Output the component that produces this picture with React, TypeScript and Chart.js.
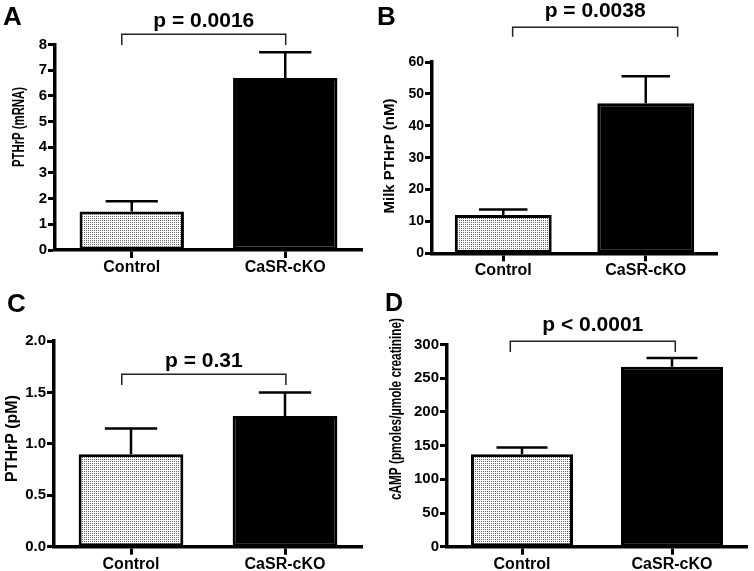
import React, { useEffect, useRef } from "react";
import { Chart, registerables } from "chart.js";

Chart.register(...registerables);

// ---------- data ----------
const categories = ["Control", "CaSR-cKO"];
const panelLetters = ["A", "B", "C", "D"];
const yTitles = ["PTHrP (mRNA)", "Milk PTHrP (nM)", "PTHrP (pM)", "cAMP (pmoles/\u03bcmole creatinine)"];

const meansA = [1.5, 6.7];
const semA = [0.4, 1.0];
const meansB = [12.0, 47.1];
const semB = [1.7, 8.4];
const meansC = [0.9, 1.27];
const semC = [0.25, 0.23];
const meansD = [137, 267];
const semD = [10, 13];

const yMaxes = [8, 60, 2, 300];
const ySteps = [1, 10, 0.5, 50];
const yDecimals = [0, 0, 1, 0];
const pLabels = ["p = 0.0016", "p = 0.0038", "p = 0.31", "p < 0.0001"];
// bracket: horizontal level, leg bottom, text baseline (data units)
const bracketLevels = [8.4, 70.9, 1.676, 305];
const bracketLegEnds = [7.98, 67.9, 1.572, 289];
const pTextBaselines = [8.69, 74.2, 1.75, 319.6];

const allMeans = [meansA, meansB, meansC, meansD];
const allSems = [semA, semB, semC, semD];

// ---------- layout / style ----------
const FONT = "'Liberation Sans', Arial, sans-serif";
type Lay = {
  box: [number, number, number, number];
  area: { left: number; right: number; top: number; bottom: number };
  tickSize: number;
  letter: { x: number; y: number; size: number };
  title: { x: number; y: number; size: number; len: number };
  bracketX: [number, number];
};
const LAYOUT: Lay[] = [
  {
    box: [0, 0, 377, 285],
    area: { left: 55, right: 362, top: 44.5, bottom: 250 },
    tickSize: 15,
    letter: { x: 3, y: 25, size: 26 },
    title: { x: 19, y: 127, size: 17, len: 80 },
    bracketX: [-0.065, 1.003],
  },
  {
    box: [377, 0, 377, 285],
    area: { left: 55, right: 340, top: 62, bottom: 253.3 },
    tickSize: 14,
    letter: { x: 0, y: 25, size: 26 },
    title: { x: 13, y: 156, size: 15, len: 115 },
    bracketX: [0.066, 1.224],
  },
  {
    box: [0, 285, 377, 286],
    area: { left: 54, right: 362, top: 56, bottom: 261.7 },
    tickSize: 15,
    letter: { x: 7, y: 27, size: 26 },
    title: { x: 13, y: 153.5, size: 16, len: 87 },
    bracketX: [-0.06, 1.006],
  },
  {
    box: [377, 285, 377, 286],
    area: { left: 70, right: 370, top: 59.5, bottom: 261.7 },
    tickSize: 15,
    letter: { x: 8, y: 26, size: 25 },
    title: { x: 20, y: 124, size: 16, len: 182 },
    bracketX: [-0.078, 1.022],
  },
];

function makePattern(): CanvasPattern | string {
  const c = document.createElement("canvas");
  c.width = 2;
  c.height = 2;
  const g = c.getContext("2d");
  if (!g) return "#d9d9d9";
  g.fillStyle = "#ffffff";
  g.fillRect(0, 0, 2, 2);
  g.fillStyle = "#666666";
  g.fillRect(0, 0, 1, 1);
  return g.createPattern(c, "repeat") || "#d9d9d9";
}

function Panel({ idx }: { idx: number }) {
  const ref = useRef<HTMLCanvasElement>(null);
  const lay = LAYOUT[idx];

  useEffect(() => {
    const canvas = ref.current;
    if (!canvas) return;
    const means = allMeans[idx];
    const sems = allSems[idx];
    const [, , w, h] = lay.box;
    const pattern = makePattern();

    const overlay = {
      id: "overlay" + idx,
      afterDatasetsDraw(chart: any) {
        const ctx = chart.ctx as CanvasRenderingContext2D;
        const ys = chart.scales.y;
        const xs = chart.scales.x;
        const meta = chart.getDatasetMeta(0);
        ctx.save();
        // error bars (upper only)
        ctx.strokeStyle = "#000";
        ctx.lineWidth = 2.5;
        meta.data.forEach((el: any, i: number) => {
          const top = ys.getPixelForValue(means[i]);
          const eb = ys.getPixelForValue(means[i] + sems[i]);
          const half = el.width * 0.25;
          ctx.beginPath();
          ctx.moveTo(el.x, top);
          ctx.lineTo(el.x, eb);
          ctx.moveTo(el.x - half, eb);
          ctx.lineTo(el.x + half, eb);
          ctx.stroke();
        });
        // significance bracket
        const x0 = xs.getPixelForValue(lay.bracketX[0]);
        const x1 = xs.getPixelForValue(lay.bracketX[1]);
        const yl = ys.getPixelForValue(bracketLevels[idx]);
        const yb = ys.getPixelForValue(bracketLegEnds[idx]);
        ctx.strokeStyle = "#222";
        ctx.lineWidth = 1.5;
        ctx.beginPath();
        ctx.moveTo(x0, yb);
        ctx.lineTo(x0, yl);
        ctx.lineTo(x1, yl);
        ctx.lineTo(x1, yb);
        ctx.stroke();
        ctx.fillStyle = "#000";
        ctx.font = `bold 21px ${FONT}`;
        ctx.textAlign = "center";
        ctx.textBaseline = "alphabetic";
        ctx.fillText(pLabels[idx], (x0 + x1) / 2, ys.getPixelForValue(pTextBaselines[idx]));
        ctx.restore();
      },
      afterDraw(chart: any) {
        const ctx = chart.ctx as CanvasRenderingContext2D;
        ctx.save();
        ctx.fillStyle = "#000";
        // panel letter
        ctx.font = `bold ${lay.letter.size}px ${FONT}`;
        ctx.textAlign = "left";
        ctx.textBaseline = "alphabetic";
        ctx.fillText(panelLetters[idx], lay.letter.x, lay.letter.y);
        // y title
        const t = lay.title;
        ctx.translate(t.x, t.y);
        ctx.rotate(-Math.PI / 2);
        ctx.font = `bold ${t.size}px ${FONT}`;
        const tw = ctx.measureText(yTitles[idx]).width;
        ctx.scale(t.len / tw, 1);
        ctx.textAlign = "center";
        ctx.textBaseline = "middle";
        ctx.fillText(yTitles[idx], 0, 0);
        ctx.restore();
      },
    };

    const chart = new Chart(canvas, {
      type: "bar",
      data: {
        labels: categories,
        datasets: [
          {
            data: means,
            backgroundColor: [pattern as any, "#000000"],
            borderColor: "#000000",
            borderWidth: 3,
            borderSkipped: false,
            barPercentage: 0.68,
            categoryPercentage: 1,
          },
        ],
      },
      options: {
        animation: false,
        responsive: false,
        devicePixelRatio: 1,
        layout: {
          padding: { left: 0, top: lay.area.top, right: w - lay.area.right, bottom: 0 },
        },
        plugins: {
          legend: { display: false },
          tooltip: { enabled: false },
        },
        scales: {
          x: {
            type: "category",
            offset: true,
            grid: {
              display: true,
              offset: false,
              drawOnChartArea: false,
              drawTicks: true,
              tickLength: 8,
              tickWidth: 3,
              tickColor: "#000",
            },
            border: { display: true, color: "#000", width: 3.5 },
            ticks: {
              color: "#000",
              padding: 0,
              maxRotation: 0,
              font: { family: FONT, size: 16, weight: "bold" },
            },
            afterFit: (s: any) => {
              s.height = h - lay.area.bottom;
            },
          },
          y: {
            min: 0,
            max: yMaxes[idx],
            grid: {
              display: true,
              drawOnChartArea: false,
              drawTicks: true,
              tickLength: 7,
              tickWidth: 3,
              tickColor: "#000",
            },
            border: { display: true, color: "#000", width: 3.5 },
            ticks: {
              stepSize: ySteps[idx],
              color: "#000",
              padding: 1,
              font: { family: FONT, size: lay.tickSize, weight: "bold" },
              callback: (v: any) => Number(v).toFixed(yDecimals[idx]),
            },
            afterFit: (s: any) => {
              s.width = lay.area.left;
            },
          },
        },
      } as any,
      plugins: [overlay],
    });
    return () => chart.destroy();
  }, [idx]);

  const [x, y, w, h] = lay.box;
  return (
    <canvas
      ref={ref}
      width={w}
      height={h}
      style={{ position: "absolute", left: x, top: y, width: w, height: h, display: "block" }}
    />
  );
}

export default function App() {
  return (
    <div
      style={{
        position: "absolute",
        left: 0,
        top: 0,
        width: 754,
        height: 571,
        background: "#fff",
        overflow: "hidden",
      }}
    >
      {[0, 1, 2, 3].map((i) => (
        <Panel key={i} idx={i} />
      ))}
    </div>
  );
}
